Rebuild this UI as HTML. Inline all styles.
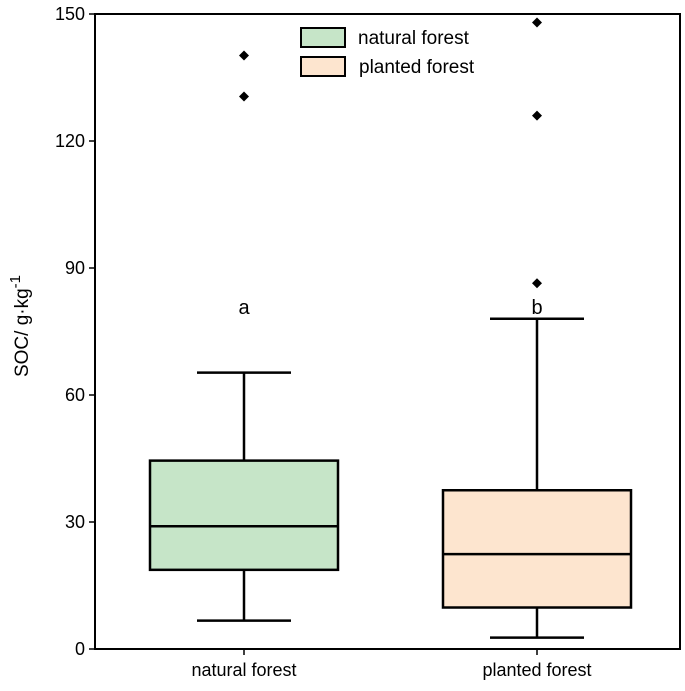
<!DOCTYPE html>
<html><head><meta charset="utf-8"><style>
html,body{margin:0;padding:0;background:#fff;}
svg{display:block;font-family:"Liberation Sans",Arial,sans-serif;}
</style></head><body>
<svg id="chart" width="685" height="691"></svg>
<script>
const categories = ["natural forest", "planted forest"];
const whiskerLow = [6.7, 2.7];
const q1 = [18.7, 9.8];
const median = [29, 22.4];
const q3 = [44.5, 37.5];
const whiskerHigh = [65.3, 78];
const outliers = [[130.5, 140.2], [86.4, 126, 148]];
const sigLetters = ["a", "b"];
const sigLetterY = [81, 81];
const yTicks = [0, 30, 60, 90, 120, 150];
const fills = ["#c6e5c8", "#fde5cf"];

const svg = document.getElementById('chart');
const NS = 'http://www.w3.org/2000/svg';
const L = 95, R = 680, T = 14, B = 649;
const yMax = 150;
function y(v){ return B - v / yMax * (B - T); }
function xc(i){ return 244 + i * 293; }
const halfW = 94, capW = 47;

function mk(tag, attrs){
  const e = document.createElementNS(NS, tag);
  for (const k in attrs) e.setAttribute(k, attrs[k]);
  svg.appendChild(e);
  return e;
}

let e = mk('rect', {x:L, y:T, width:R-L, height:B-T, fill:'none', stroke:'#000', 'stroke-width':2});



yTicks.forEach(t => {
  let tk = mk('line', {x1:L-6, x2:L, y1:y(t), y2:y(t), stroke:'#000', 'stroke-width':1.5});
  
  
  let lb = mk('text', {x:L-10, y:y(t)+6, 'text-anchor':'end', 'font-size':18});
  lb.textContent = t;
  
  
});

let yt = mk('text', {transform:'translate(28,326) rotate(-90)', 'text-anchor':'middle', 'font-size':19});
yt.innerHTML = 'SOC/ g·kg<tspan dy="-8" font-size="15">-1</tspan>';



categories.forEach((c, i) => {
  const cx = xc(i);
  let tk = mk('line', {x1:cx, x2:cx, y1:B, y2:B+6, stroke:'#000', 'stroke-width':1.5});
  
  
  let lb = mk('text', {x:cx, y:676, 'text-anchor':'middle', 'font-size':18});
  lb.textContent = c;
  
  

  let w1 = mk('line', {x1:cx, x2:cx, y1:y(q3[i]), y2:y(whiskerHigh[i]), stroke:'#000', 'stroke-width':2.5});
  
  
  let w2 = mk('line', {x1:cx, x2:cx, y1:y(q1[i]), y2:y(whiskerLow[i]), stroke:'#000', 'stroke-width':2.5});
  
  
  let c1 = mk('line', {x1:cx-capW, x2:cx+capW, y1:y(whiskerHigh[i]), y2:y(whiskerHigh[i]), stroke:'#000', 'stroke-width':2.5});
  
  
  let c2 = mk('line', {x1:cx-capW, x2:cx+capW, y1:y(whiskerLow[i]), y2:y(whiskerLow[i]), stroke:'#000', 'stroke-width':2.5});
  
  
  let bx = mk('rect', {x:cx-halfW, y:y(q3[i]), width:2*halfW, height:y(q1[i])-y(q3[i]), fill:fills[i], stroke:'#000', 'stroke-width':2.5});
  
  
  let md = mk('line', {x1:cx-halfW, x2:cx+halfW, y1:y(median[i]), y2:y(median[i]), stroke:'#000', 'stroke-width':2.5});
  
  
  outliers[i].forEach(v => {
    const py = y(v);
    let o = mk('polygon', {points:`${cx},${py-5} ${cx+5},${py} ${cx},${py+5} ${cx-5},${py}`, fill:'#000'});
    
    
  });
  let s = mk('text', {x:cx, y:y(sigLetterY[i])+8, 'text-anchor':'middle', 'font-size':20});
  s.textContent = sigLetters[i];
  
  
});

categories.forEach((c, i) => {
  const ly = 28 + i * 29;
  let sw = mk('rect', {x:301, y:ly, width:44, height:19, fill:fills[i], stroke:'#000', 'stroke-width':2});
  
  
  let lt = mk('text', {x:358 + i, y:ly + 16, 'font-size':19});
  lt.textContent = c;
  
  
});
</script>
</body></html>
